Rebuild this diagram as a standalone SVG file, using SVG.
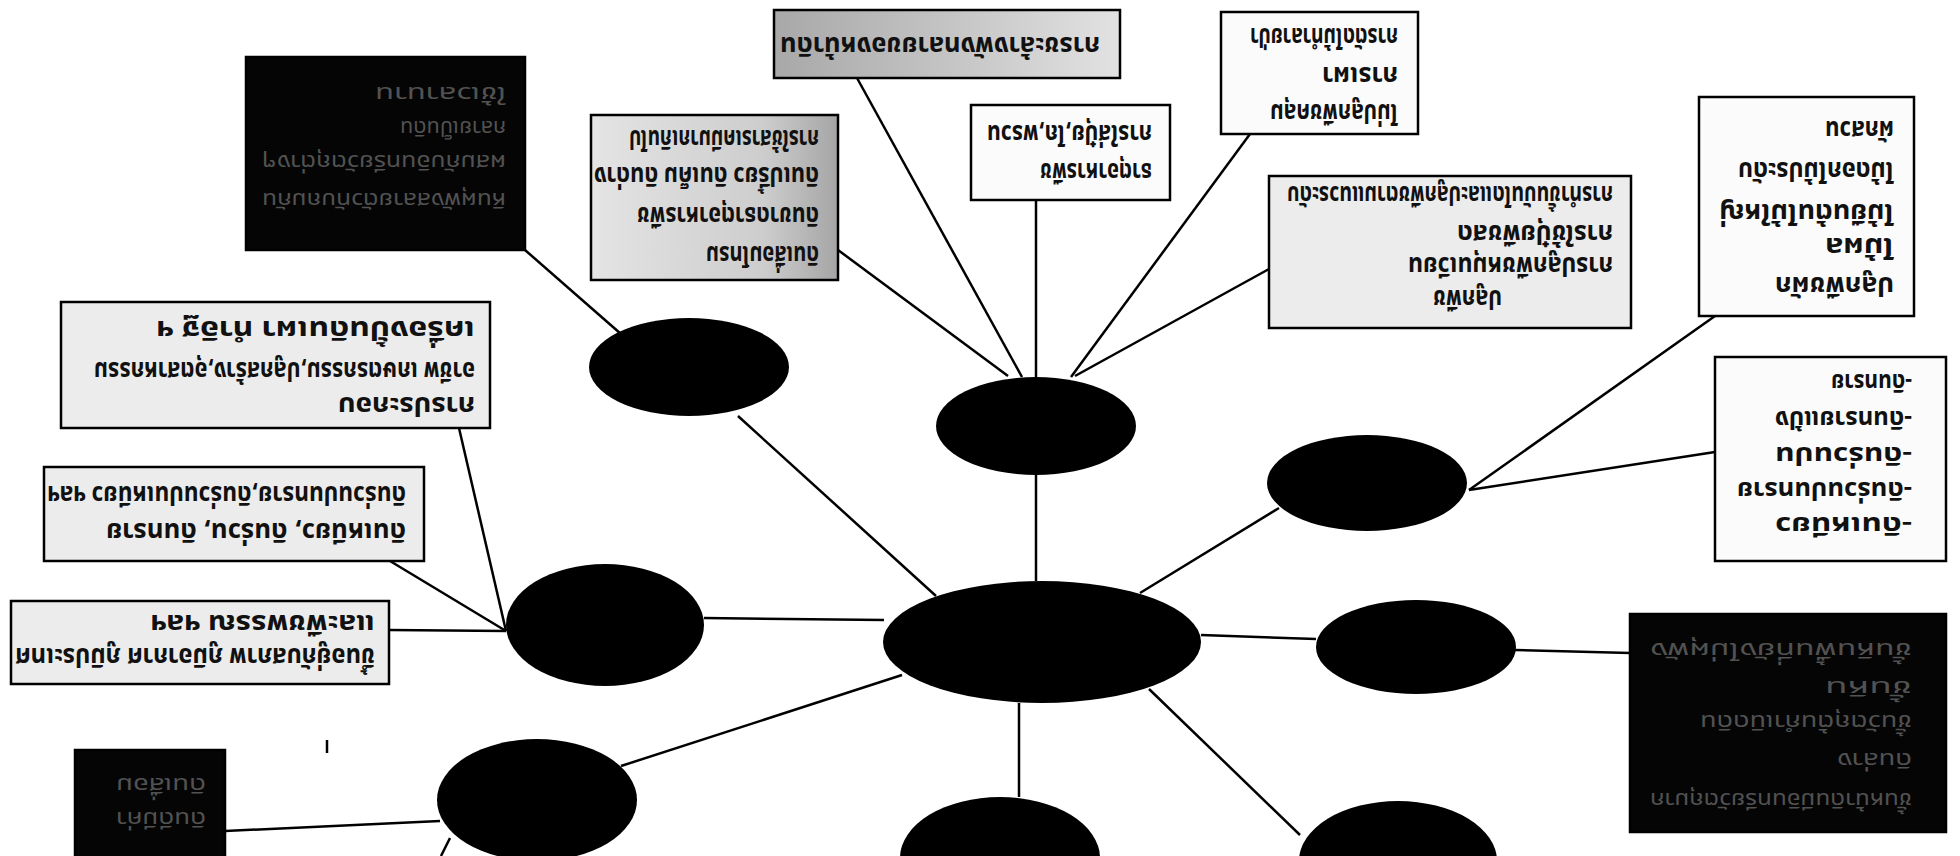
<svg xmlns="http://www.w3.org/2000/svg" width="1960" height="856" viewBox="0 0 1960 856">
<style>
.box{stroke:#000;stroke-width:2.5}
.w{fill:#fbfbfb}
.g1{fill:url(#gr1)}
.g2{fill:url(#gr2)}
.g3{fill:#ececec}
.dk{fill:#050505}
.con line{stroke:#000;stroke-width:2.5}
.el{fill:#000}
.t{font-family:"Noto Sans Thai","Noto Sans Thai UI","Loma","Garuda","Tlwg Typo","Norasi","Noto Sans","DejaVu Sans",sans-serif;font-size:26px;font-weight:bold;fill:#111}
.f{fill:#525252;font-weight:normal;font-size:22px}
</style>
<defs>
<linearGradient id="gr1" x1="0" y1="0" x2="1" y2="0">
<stop offset="0" stop-color="#a8a8a8"/><stop offset="0.5" stop-color="#c4c4c4"/><stop offset="1" stop-color="#e2e2e2"/>
</linearGradient>
<linearGradient id="gr2" x1="0" y1="0" x2="1" y2="0">
<stop offset="0" stop-color="#e4e4e4"/><stop offset="0.7" stop-color="#cdcdcd"/><stop offset="1" stop-color="#a5a5a5"/>
</linearGradient>
</defs>
<rect width="1960" height="856" fill="#fff"/>

<g id="connectors" class="con">
<line x1="857" y1="78" x2="1022" y2="377"/>
<line x1="838" y1="250" x2="1008" y2="376"/>
<line x1="1036" y1="200" x2="1036" y2="377"/>
<line x1="1250" y1="134" x2="1071" y2="377"/>
<line x1="1269" y1="269" x2="1075" y2="376"/>
<line x1="1715" y1="316" x2="1469" y2="490"/>
<line x1="1715" y1="452" x2="1469" y2="490"/>
<line x1="1630" y1="653" x2="1515" y2="650"/>
<line x1="525" y1="250" x2="621" y2="334"/>
<line x1="459" y1="428" x2="506" y2="631"/>
<line x1="390" y1="561" x2="506" y2="631"/>
<line x1="389" y1="630" x2="506" y2="631"/>
<line x1="225" y1="831" x2="440" y2="821"/>
<line x1="450" y1="838" x2="441" y2="856"/>
<line x1="738" y1="416" x2="936" y2="596"/>
<line x1="1036" y1="475" x2="1036" y2="581"/>
<line x1="1279" y1="508" x2="1140" y2="593"/>
<line x1="704" y1="618" x2="884" y2="620"/>
<line x1="1201" y1="635" x2="1316" y2="639"/>
<line x1="621" y1="766" x2="902" y2="675"/>
<line x1="1019" y1="703" x2="1019" y2="797"/>
<line x1="1149" y1="689" x2="1300" y2="835"/>
<line x1="327" y1="740" x2="327" y2="753"/>
</g>

<g id="n-center"><ellipse class="el" cx="1042" cy="642" rx="159" ry="61"/></g>
<g id="n-a"><ellipse class="el" cx="689" cy="367" rx="100" ry="49"/></g>
<g id="n-b"><ellipse class="el" cx="1036" cy="426" rx="100" ry="49"/></g>
<g id="n-c"><ellipse class="el" cx="1367" cy="483" rx="100" ry="48"/></g>
<g id="n-d"><ellipse class="el" cx="605" cy="625" rx="99" ry="61"/></g>
<g id="n-e"><ellipse class="el" cx="1416" cy="647" rx="100" ry="47"/></g>
<g id="n-f"><ellipse class="el" cx="537" cy="800" rx="100" ry="61"/></g>
<g id="n-g"><ellipse class="el" cx="1000" cy="858" rx="100" ry="61"/></g>
<g id="n-h"><ellipse class="el" cx="1398" cy="861" rx="99" ry="60"/></g>

<g id="b1">
<rect class="box dk" x="246" y="57" width="279" height="193"/>
<g transform="rotate(180 385.5 153.5)" class="t f">
<text x="265" y="114" textLength="244" lengthAdjust="spacingAndGlyphs">หินผุพังสลายตัวทับถมกัน</text>
<text x="265" y="152" textLength="244" lengthAdjust="spacingAndGlyphs">ผสมกับอินทรียวัตถุต่างๆ</text>
<text x="265" y="186" textLength="106" lengthAdjust="spacingAndGlyphs">กลายเป็นดิน</text>
<text x="265" y="220" textLength="131" lengthAdjust="spacingAndGlyphs">ใช้เวลานาน</text>
</g>
</g>

<g id="b2">
<rect class="box g1" x="774" y="10" width="346" height="68"/>
<g transform="rotate(180 947 44)" class="t">
<text x="794" y="51" textLength="320" lengthAdjust="spacingAndGlyphs">การชะล้างพังทลายของหน้าดิน</text>
</g>
</g>

<g id="b3">
<rect class="box g2" x="591" y="115" width="247" height="165"/>
<g transform="rotate(180 714.5 197.5)" class="t">
<text x="610" y="149" textLength="113" lengthAdjust="spacingAndGlyphs">ดินเสื่อมโทรม</text>
<text x="610" y="188" textLength="182" lengthAdjust="spacingAndGlyphs">ดินขาดธาตุอาหารพืช</text>
<text x="610" y="228" textLength="225" lengthAdjust="spacingAndGlyphs">ดินเปรี้ยว ดินเค็ม ดินด่าง</text>
<text x="610" y="265" textLength="190" lengthAdjust="spacingAndGlyphs">การใช้สารเคมีมากเกินไป</text>
</g>
</g>

<g id="b4">
<rect class="box w" x="971" y="105" width="199" height="95"/>
<g transform="rotate(180 1070.5 152.5)" class="t">
<text x="989" y="142" textLength="112" lengthAdjust="spacingAndGlyphs">ธาตุอาหารพืช</text>
<text x="989" y="180" textLength="165" lengthAdjust="spacingAndGlyphs">การใส่ปุ๋ย,ไถ,พรวน</text>
</g>
</g>

<g id="b5">
<rect class="box w" x="1221" y="12" width="197" height="122"/>
<g transform="rotate(180 1319.5 73)" class="t">
<text x="1241" y="42" textLength="128" lengthAdjust="spacingAndGlyphs">ไม่ปลูกพืชคลุม</text>
<text x="1241" y="79" textLength="76" lengthAdjust="spacingAndGlyphs">การเผา</text>
<text x="1241" y="118" textLength="148" lengthAdjust="spacingAndGlyphs">การตัดไม้ทำลายป่า</text>
</g>
</g>

<g id="b6">
<rect class="box g3" x="1269" y="176" width="362" height="152"/>
<g transform="rotate(180 1450 252)" class="t">
<text x="1398" y="214" textLength="69" lengthAdjust="spacingAndGlyphs">ปลูกพืช</text>
<text x="1287" y="247" textLength="205" lengthAdjust="spacingAndGlyphs">การปลูกพืชหมุนเวียน</text>
<text x="1287" y="279" textLength="156" lengthAdjust="spacingAndGlyphs">การใช้ปุ๋ยพืชสด</text>
<text x="1287" y="318" textLength="326" lengthAdjust="spacingAndGlyphs">การทำขั้นบันไดและปลูกพืชตามแนวระดับ</text>
</g>
</g>

<g id="b7">
<rect class="box w" x="1699" y="97" width="215" height="219"/>
<g transform="rotate(180 1806.5 206.5)" class="t">
<text x="1719" y="136" textLength="119" lengthAdjust="spacingAndGlyphs">ปลูกพืชผัก</text>
<text x="1719" y="175" textLength="69" lengthAdjust="spacingAndGlyphs">ไม้ผล</text>
<text x="1719" y="209" textLength="175" lengthAdjust="spacingAndGlyphs">ไม้ยืนต้นไม้ใหญ่</text>
<text x="1719" y="251" textLength="156" lengthAdjust="spacingAndGlyphs">ไม้ดอกไม้ประดับ</text>
<text x="1719" y="292" textLength="69" lengthAdjust="spacingAndGlyphs">ผักสวน</text>
</g>
</g>

<g id="b8">
<rect class="box w" x="1715" y="357" width="231" height="204"/>
<g transform="rotate(180 1830.5 459)" class="t" style="font-size:24px">
<text x="1749" y="401" textLength="137" lengthAdjust="spacingAndGlyphs">-ดินเหนียว</text>
<text x="1749" y="436" textLength="175" lengthAdjust="spacingAndGlyphs">-ดินร่วนปนทราย</text>
<text x="1749" y="471" textLength="137" lengthAdjust="spacingAndGlyphs">-ดินร่วนปน</text>
<text x="1749" y="507" textLength="137" lengthAdjust="spacingAndGlyphs">-ดินทรายแป้ง</text>
<text x="1749" y="544" textLength="81" lengthAdjust="spacingAndGlyphs">-ดินทราย</text>
</g>
</g>

<g id="b9">
<rect class="box dk" x="1630" y="614" width="316" height="218"/>
<g transform="rotate(180 1788 723)" class="t f">
<text x="1664" y="653" textLength="262" lengthAdjust="spacingAndGlyphs">ชั้นหน้าดินมีอินทรียวัตถุมาก</text>
<text x="1664" y="693" textLength="75" lengthAdjust="spacingAndGlyphs">ดินล่าง</text>
<text x="1664" y="731" textLength="212" lengthAdjust="spacingAndGlyphs">ชั้นวัตถุต้นกำเนิดดิน</text>
<text x="1664" y="765" textLength="87" lengthAdjust="spacingAndGlyphs">ชั้นหิน</text>
<text x="1664" y="803" textLength="262" lengthAdjust="spacingAndGlyphs">ชั้นหินพื้นที่ยังไม่ผุพัง</text>
</g>
</g>

<g id="b10">
<rect class="box g3" x="61" y="302" width="429" height="126"/>
<g transform="rotate(180 275.5 365)" class="t">
<text x="76" y="333" textLength="137" lengthAdjust="spacingAndGlyphs">การประกอบ</text>
<text x="76" y="368" textLength="381" lengthAdjust="spacingAndGlyphs">อาชีพ  เกษตรกรรม,ปลูกสร้าง,อุตสาหกรรม</text>
<text x="76" y="409" textLength="319" lengthAdjust="spacingAndGlyphs">เครื่องปั้นดินเผา  ทำอิฐ  ฯ</text>
</g>
</g>

<g id="b11">
<rect class="box g3" x="44" y="467" width="380" height="94"/>
<g transform="rotate(180 234 514)" class="t">
<text x="62" y="505" textLength="300" lengthAdjust="spacingAndGlyphs">ดินเหนียว, ดินร่วน, ดินทราย</text>
<text x="62" y="542" textLength="359" lengthAdjust="spacingAndGlyphs">ดินร่วนปนทราย,ดินร่วนปนเหนียว ฯลฯ</text>
</g>
</g>

<g id="b12">
<rect class="box g3" x="11" y="601" width="378" height="83"/>
<g transform="rotate(180 200 642.5)" class="t">
<text x="25" y="637" textLength="360" lengthAdjust="spacingAndGlyphs">ขึ้นอยู่กับสภาพ  ภูมิอากาศ  ภูมิประเทศ</text>
<text x="25" y="670" textLength="225" lengthAdjust="spacingAndGlyphs">และพืชพรรณ  ฯลฯ</text>
</g>
</g>

<g id="b13">
<rect class="box dk" x="75" y="750" width="150" height="110"/>
<g transform="rotate(180 150 805)" class="t f">
<text x="94" y="798" textLength="90" lengthAdjust="spacingAndGlyphs">ดินดีมีค่า</text>
<text x="94" y="832" textLength="90" lengthAdjust="spacingAndGlyphs">ดินเสื่อม</text>
</g>
</g>
</svg>
